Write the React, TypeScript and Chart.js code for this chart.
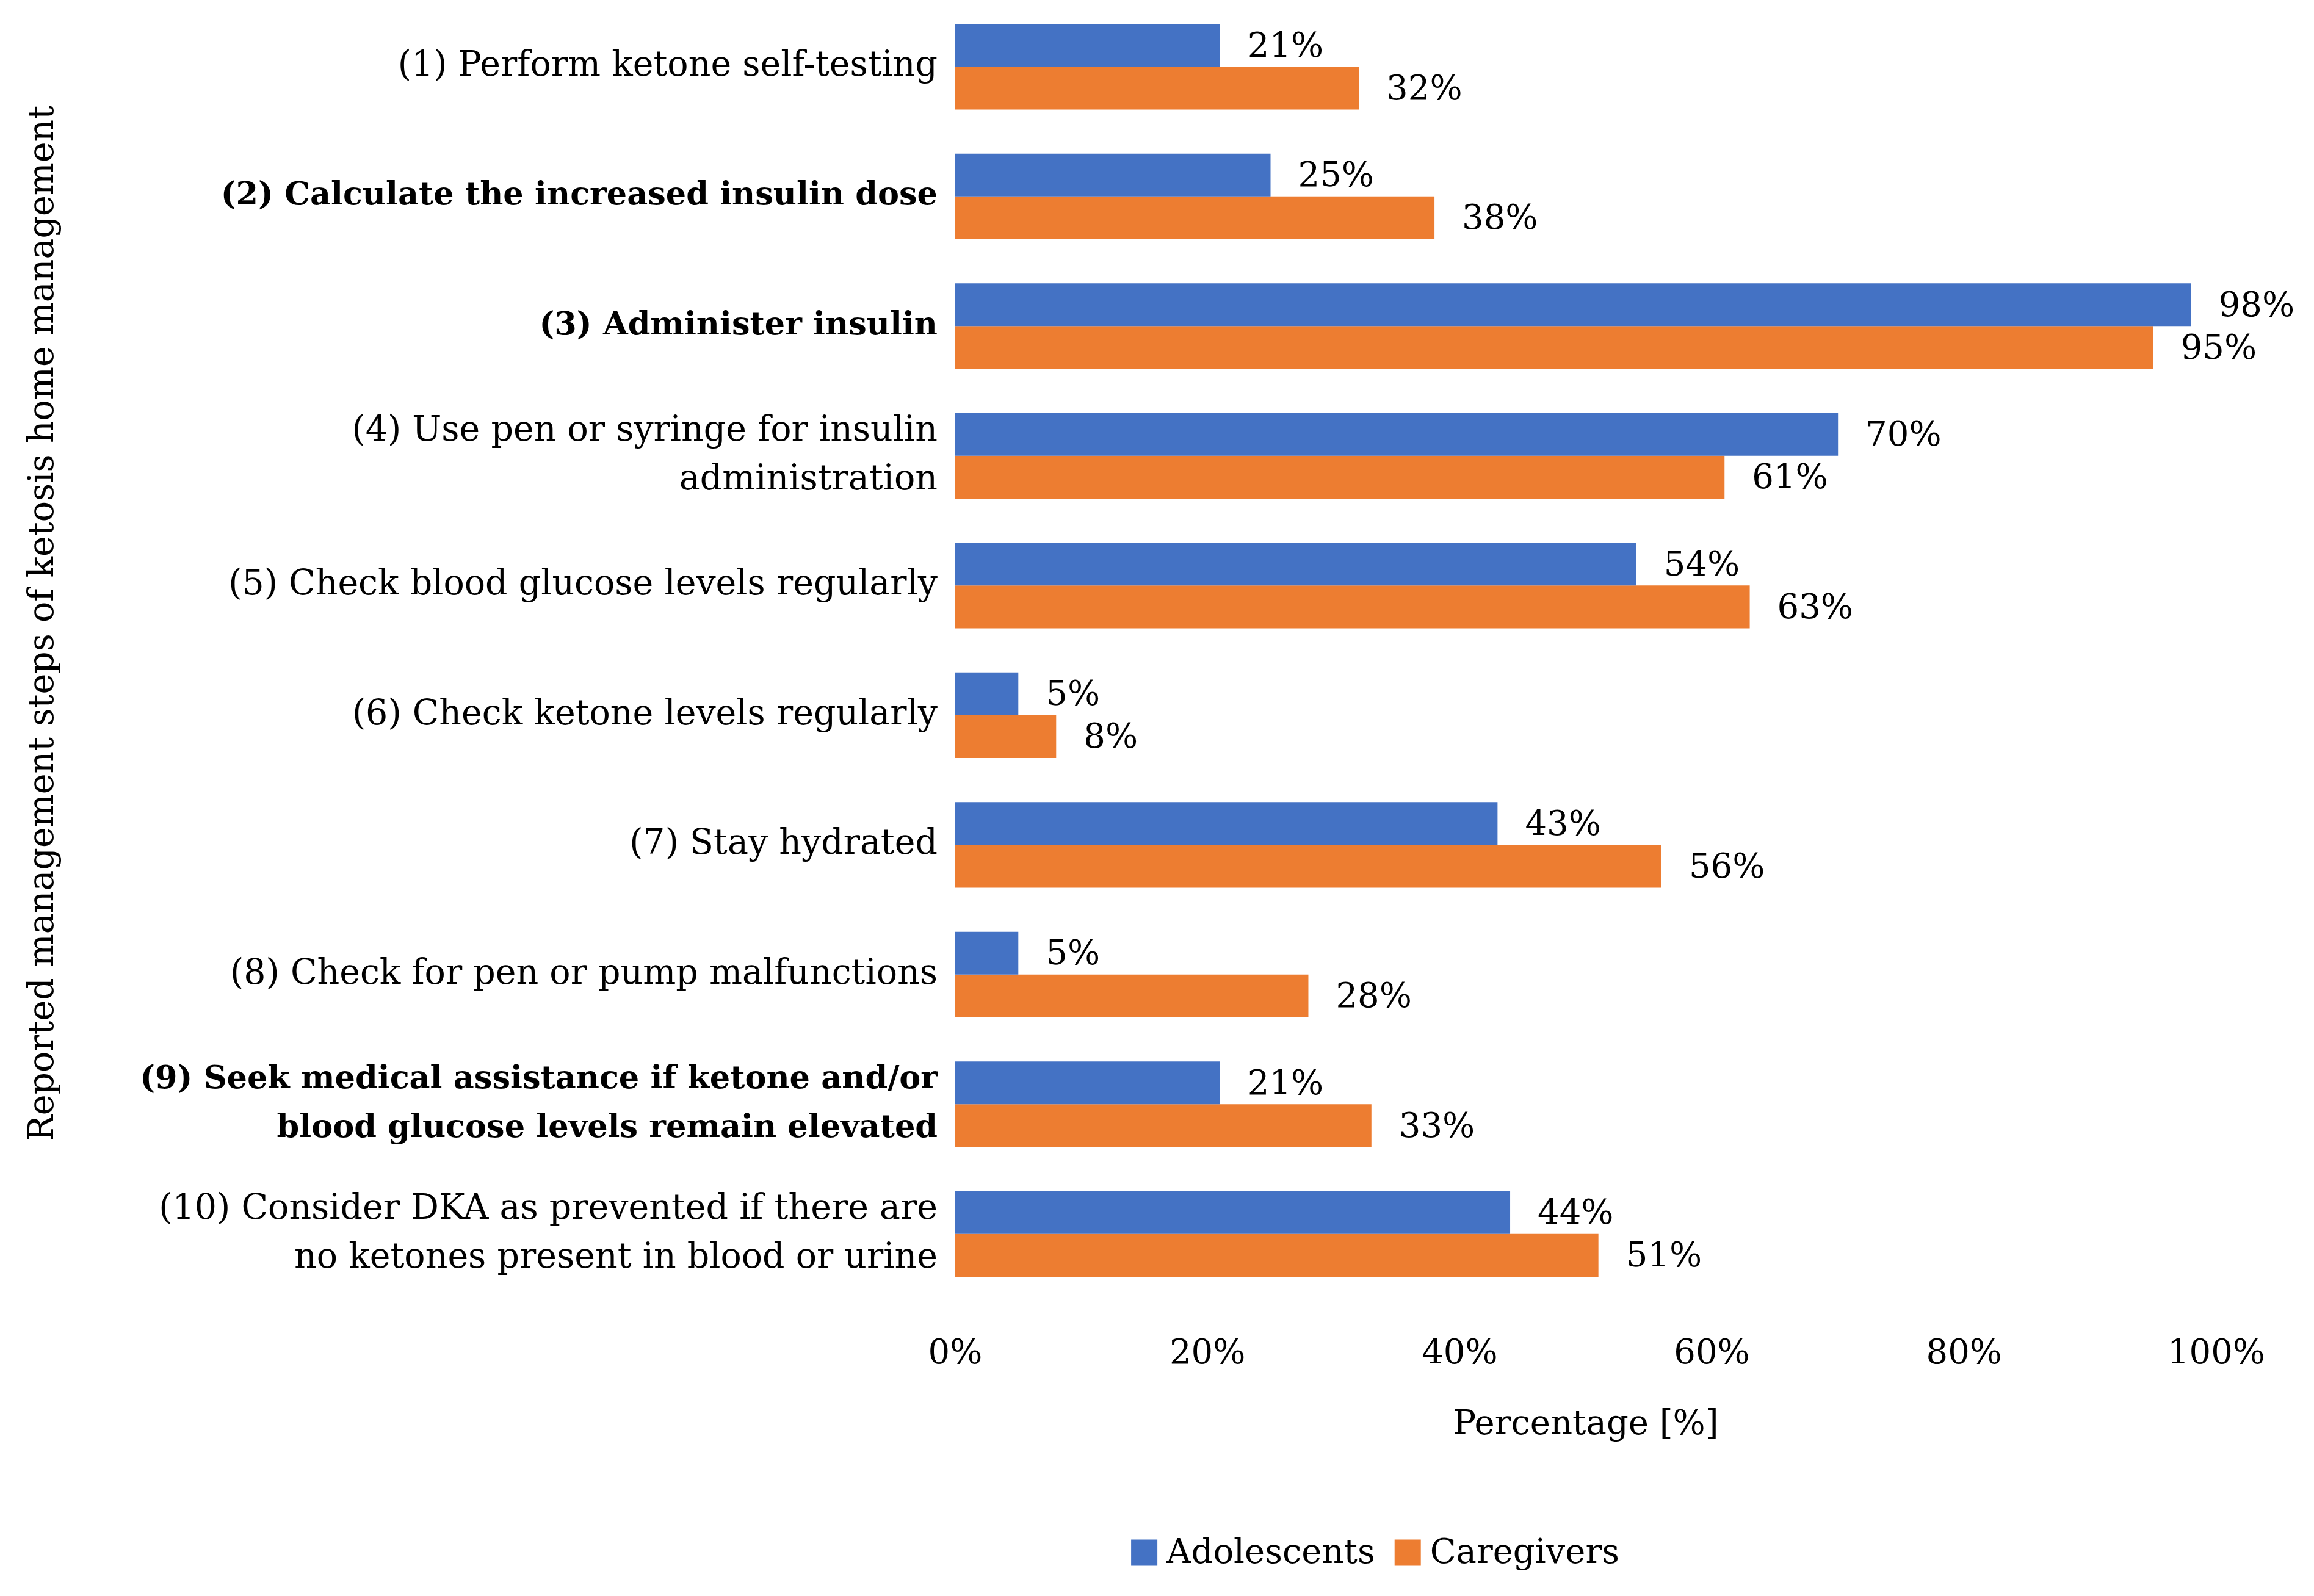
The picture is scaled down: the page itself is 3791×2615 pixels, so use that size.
import React, { useEffect, useRef } from 'react';
import { Chart, registerables } from 'chart.js';

Chart.register(...registerables);

const categories: (string | string[])[] = [
  '(1) Perform ketone self-testing',
  '(2) Calculate the increased insulin dose',
  '(3) Administer insulin',
  ['(4) Use pen or syringe for insulin', 'administration'],
  '(5) Check blood glucose levels regularly',
  '(6) Check ketone levels regularly',
  '(7) Stay hydrated',
  '(8) Check for pen or pump malfunctions',
  ['(9) Seek medical assistance if ketone and/or', 'blood glucose levels remain elevated'],
  ['(10) Consider DKA as prevented if there are', 'no ketones present in blood or urine'],
];
const boldCategories = [false, true, true, false, false, false, false, false, true, false];
const adolescents = [21, 25, 98, 70, 54, 5, 43, 5, 21, 44];
const caregivers = [32, 38, 95, 61, 63, 8, 56, 28, 33, 51];
const seriesNames = ['Adolescents', 'Caregivers'];
const seriesColors = ['#4472C4', '#ED7D31'];
const xMin = 0;
const xMax = 100;
const xStep = 20;
const yTitle = 'Reported management steps of ketosis home management';
const xTitle = 'Percentage [%]';

const FAMILY = "'DejaVu Serif', serif";
const FS = 56;
const FS_Y = 57;
const FS_Y_BOLD = 52.5;
const TEXT = '#000000';

const W = 3791;
const H = 2615;

const dataLabelsPlugin = {
  id: 'dataLabels',
  afterDatasetsDraw(chart: any) {
    const ctx = chart.ctx;
    ctx.save();
    ctx.font = `${FS}px ${FAMILY}`;
    ctx.fillStyle = TEXT;
    ctx.textAlign = 'left';
    ctx.textBaseline = 'middle';
    chart.data.datasets.forEach((ds: any, di: number) => {
      const meta = chart.getDatasetMeta(di);
      meta.data.forEach((bar: any, i: number) => {
        ctx.fillText(`${ds.data[i]}%`, bar.x + 45, bar.y + 4);
      });
    });
    ctx.restore();
  },
};

const yTitlePlugin = {
  id: 'yTitleCustom',
  afterDraw(chart: any) {
    const ctx = chart.ctx;
    const { top, bottom } = chart.chartArea;
    ctx.save();
    ctx.font = `${FS_Y}px ${FAMILY}`;
    ctx.fillStyle = TEXT;
    ctx.textAlign = 'center';
    ctx.textBaseline = 'middle';
    ctx.translate(72, (top + bottom) / 2 - 44);
    ctx.rotate(-Math.PI / 2);
    ctx.fillText(yTitle, 0, 0);
    ctx.restore();
  },
};

const legendPlugin = {
  id: 'customLegend',
  afterDraw(chart: any) {
    const ctx = chart.ctx;
    ctx.save();
    ctx.font = `${FS}px ${FAMILY}`;
    const box = 43;
    const gapText = 15;
    const gapItem = 32;
    const items = chart.data.datasets.map((ds: any) => ({
      label: ds.label,
      color: ds.backgroundColor,
      w: ctx.measureText(ds.label).width,
    }));
    let total = 0;
    items.forEach((it: any, i: number) => {
      total += box + gapText + it.w + (i < items.length - 1 ? gapItem : 0);
    });
    const cx = 2253;
    const cy = 2544;
    let x = cx - total / 2;
    items.forEach((it: any) => {
      ctx.fillStyle = it.color;
      ctx.fillRect(x, cy - box / 2, box, box);
      x += box + gapText;
      ctx.fillStyle = TEXT;
      ctx.textAlign = 'left';
      ctx.textBaseline = 'middle';
      ctx.fillText(it.label, x, cy + 2);
      x += it.w + gapItem;
    });
    ctx.restore();
  },
};

export default function App() {
  const canvasRef = useRef<HTMLCanvasElement | null>(null);

  useEffect(() => {
    document.body.style.margin = '0';
    const canvas = canvasRef.current;
    if (!canvas) return;
    const chart = new Chart(canvas, {
      type: 'bar',
      data: {
        labels: categories,
        datasets: [
          {
            label: seriesNames[0],
            data: adolescents,
            backgroundColor: seriesColors[0],
            barPercentage: 1,
            categoryPercentage: 0.66,
          },
          {
            label: seriesNames[1],
            data: caregivers,
            backgroundColor: seriesColors[1],
            barPercentage: 1,
            categoryPercentage: 0.66,
          },
        ],
      },
      options: {
        indexAxis: 'y',
        responsive: false,
        animation: false,
        devicePixelRatio: 1,
        layout: { padding: { top: 3, right: 160, bottom: 246, left: 0 } },
        plugins: {
          legend: { display: false },
          tooltip: { enabled: false },
          title: { display: false },
        },
        scales: {
          x: {
            type: 'linear',
            min: xMin,
            max: xMax,
            grid: { display: false, drawTicks: false },
            border: { display: false },
            ticks: {
              stepSize: xStep,
              padding: 58,
              color: TEXT,
              font: { family: FAMILY, size: FS },
              callback: (v: any) => `${v}%`,
            },
            title: {
              display: true,
              text: xTitle,
              color: TEXT,
              font: { family: FAMILY, size: FS },
              padding: { top: 0, bottom: 0 },
            },
            afterFit: (s: any) => {
              s.height = 241;
              s.paddingLeft = 0;
              s.paddingRight = 0;
            },
          },
          y: {
            type: 'category',
            grid: { display: false, drawTicks: false },
            border: { display: false },
            ticks: {
              padding: 29,
              color: TEXT,
              autoSkip: false,
              font: (c: any) => {
                const bold = boldCategories[c.index];
                const size = bold ? FS_Y_BOLD : FS_Y;
                return {
                  family: FAMILY,
                  size,
                  weight: bold ? 'bold' : 'normal',
                  lineHeight: 80 / size,
                };
              },
            },
            afterFit: (s: any) => {
              s.width = 1565;
              s.paddingTop = 0;
              s.paddingBottom = 0;
            },
          },
        },
      },
      plugins: [dataLabelsPlugin, yTitlePlugin, legendPlugin],
    } as any);
    return () => chart.destroy();
  }, []);

  return (
    <div style={{ width: W, height: H, background: '#ffffff' }}>
      <canvas ref={canvasRef} width={W} height={H} style={{ display: 'block' }} />
    </div>
  );
}
